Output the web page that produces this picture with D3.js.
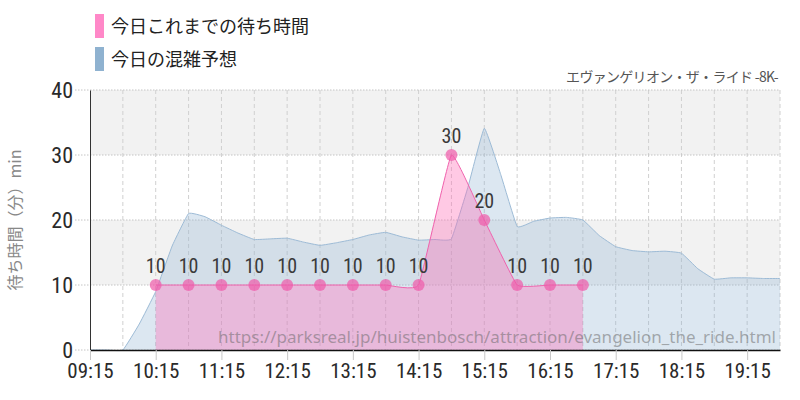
<!DOCTYPE html>
<html lang="ja">
<head>
<meta charset="UTF-8">
<title>待ち時間</title>
<script src="https://cdn.jsdelivr.net/npm/d3@7/dist/d3.min.js"></script>
<style>
  body { margin:0; background:#fff; }
  svg { display:block; }
  .num { font-family:"Roboto Condensed","Liberation Sans Narrow","Roboto",sans-serif; }
</style>
</head>
<body>
<script>
// data
var tickLabels = ["09:15","10:15","11:15","12:15","13:15","14:15","15:15","16:15","17:15","18:15","19:15"];
var yTicks = [0, 10, 20, 30, 40];

var actualTimes = ["10:15","10:45","11:15","11:45","12:15","12:45","13:15","13:45","14:15","14:45","15:15","15:45","16:15","16:45"];
var actualValues = [10,10,10,10,10,10,10,10,10,30,20,10,10,10];

var forecastTimes = ["09:15","09:30","09:45","10:00","10:15","10:30","10:45","11:00","11:15","11:30","11:45","12:00","12:15","12:30","12:45","13:00","13:15","13:30","13:45","14:00","14:15","14:30","14:45","15:00","15:15","15:30","15:45","16:00","16:15","16:30","16:45","17:00","17:15","17:30","17:45","18:00","18:15","18:30","18:45","19:00","19:15","19:30","19:45"];
var forecastValues = [0,0,0,4,9,16,21,20.5,19.2,18,17,17.1,17.2,16.6,16.1,16.5,17,17.7,18.1,17.4,16.9,17,17.1,25,34.1,27,19,19.8,20.3,20.4,20,17.6,15.9,15.3,15.1,15.2,14.9,12.5,10.9,11.1,11.1,11,11];

(function() {
var w = 800, h = 400;
var mLeft = 90, mRight = 780, mTop = 90, mBottom = 350;

var parse = d3.timeParse("%H:%M");

var x = d3.scaleTime()
    .domain([parse("09:15"), parse("19:45")])
    .range([mLeft, mRight]);
var y = d3.scaleLinear()
    .domain([0, 40])
    .range([mBottom, mTop]);

var svg = d3.select("body").append("svg")
    .attr("width", w)
    .attr("height", h);

// bands
[[10, 20], [30, 40]].forEach(function(b) {
  svg.append("rect")
     .attr("x", mLeft).attr("y", y(b[1]))
     .attr("width", mRight - mLeft).attr("height", y(b[0]) - y(b[1]))
     .attr("fill", "#f2f2f2");
});

// vertical grid every 30 min
var halfHours = d3.range(1, 22).map(function(i) { return d3.timeMinute.offset(parse("09:15"), i * 30); });
svg.selectAll(".vgrid").data(halfHours).enter().append("line")
   .attr("x1", function(d) { return x(d); }).attr("x2", function(d) { return x(d); })
   .attr("y1", mTop).attr("y2", mBottom)
   .attr("stroke", "#d0d0d0").attr("stroke-dasharray", "4,3");

// horizontal grid
svg.selectAll(".hgrid").data(yTicks).enter().append("line")
   .attr("x1", 75).attr("x2", mRight)
   .attr("y1", function(d) { return y(d); }).attr("y2", function(d) { return y(d); })
   .attr("stroke", "#c4c4c4").attr("stroke-dasharray", "1.5,1.5");

var fData = forecastTimes.map(function(t, i) { return { t: parse(t), v: forecastValues[i] }; });
var aData = actualTimes.map(function(t, i) { return { t: parse(t), v: actualValues[i] }; });

var curve = d3.curveCardinal.tension(0.7);

var area = d3.area()
    .x(function(d) { return x(d.t); })
    .y0(y(0))
    .y1(function(d) { return y(d.v); })
    .curve(curve);
var line = d3.line()
    .x(function(d) { return x(d.t); })
    .y(function(d) { return y(d.v); })
    .curve(curve);

// forecast area
svg.append("path").datum(fData)
   .attr("d", area)
   .attr("fill", "rgba(140,175,210,0.3)");
svg.append("path").datum(fData)
   .attr("d", line)
   .attr("fill", "none").attr("stroke", "#9dbbd6").attr("stroke-width", 1);

// actual area
svg.append("path").datum(aData)
   .attr("d", area)
   .attr("fill", "rgba(255,105,180,0.36)");
svg.append("path").datum(aData)
   .attr("d", line)
   .attr("fill", "none").attr("stroke", "#f062ad").attr("stroke-width", 1);

// watermark
svg.append("text")
   .attr("x", 776).attr("y", 343)
   .attr("text-anchor", "end")
   .attr("font-family", "'Noto Sans','Open Sans',sans-serif")
   .attr("font-size", "17px")
   .attr("fill", "rgba(100,100,100,0.5)")
   .text("https://parksreal.jp/huistenbosch/attraction/evangelion_the_ride.html");

// points
svg.selectAll(".pt").data(aData).enter().append("circle")
   .attr("cx", function(d) { return x(d.t); })
   .attr("cy", function(d) { return y(d.v); })
   .attr("r", 6)
   .attr("fill", "rgba(240,90,170,0.7)");

svg.selectAll(".lbl").data(aData).enter().append("text")
   .attr("class", "num")
   .attr("x", function(d) { return x(d.t); })
   .attr("y", function(d) { return y(d.v) - 12; })
   .attr("text-anchor", "middle")
   .attr("font-size", "20px")
   .attr("fill", "#3a3a3a")
   .text(function(d) { return d.v; });

// axes
var yAxis = d3.axisLeft(y).tickValues(yTicks).tickSize(0).tickPadding(17);
var gy = svg.append("g").attr("transform", "translate(" + mLeft + ",0)").call(yAxis);
gy.select(".domain").attr("stroke", "#333");
gy.selectAll("text").attr("class", "num").attr("font-size", "22px").attr("fill", "#2a2a2a");

var xAxis = d3.axisBottom(x)
    .tickValues(tickLabels.map(parse))
    .tickFormat(d3.timeFormat("%H:%M"))
    .tickSize(10).tickSizeOuter(0).tickPadding(3);
var gx = svg.append("g").attr("transform", "translate(0," + mBottom + ")").call(xAxis);
gx.select(".domain").attr("stroke", "#111").attr("stroke-width", 1.5);
gx.selectAll(".tick line").attr("stroke", "#c8c8c8");
gx.selectAll("text").attr("class", "num").attr("font-size", "21px").attr("fill", "#2a2a2a");

// y label
svg.append("text")
   .attr("transform", "translate(21," + ((mTop + mBottom) / 2) + ") rotate(-90)")
   .attr("text-anchor", "middle")
   .attr("font-family", "'Noto Sans CJK JP',sans-serif")
   .attr("font-size", "16px")
   .attr("fill", "#888")
   .text("待ち時間（分）min");

// title
svg.append("text")
   .attr("x", 778).attr("y", 82)
   .attr("text-anchor", "end")
   .attr("font-family", "'Noto Sans CJK JP',sans-serif")
   .attr("font-size", "14px")
   .attr("letter-spacing", "-0.7px")
   .attr("fill", "#555")
   .text("エヴァンゲリオン・ザ・ライド -8K-");

// legend
var legend = [["今日これまでの待ち時間", "#ff88c8"], ["今日の混雑予想", "#8fb2d0"]];
legend.forEach(function(l, i) {
  svg.append("rect")
     .attr("x", 95).attr("y", 14 + i * 33)
     .attr("width", 9).attr("height", 24)
     .attr("fill", l[1]);
  svg.append("text")
     .attr("x", 111).attr("y", 33 + i * 33)
     .attr("font-family", "'Noto Sans CJK JP',sans-serif")
     .attr("font-size", "18px")
     .attr("fill", "#222")
     .text(l[0]);
});
})();
</script>
</body>
</html>
